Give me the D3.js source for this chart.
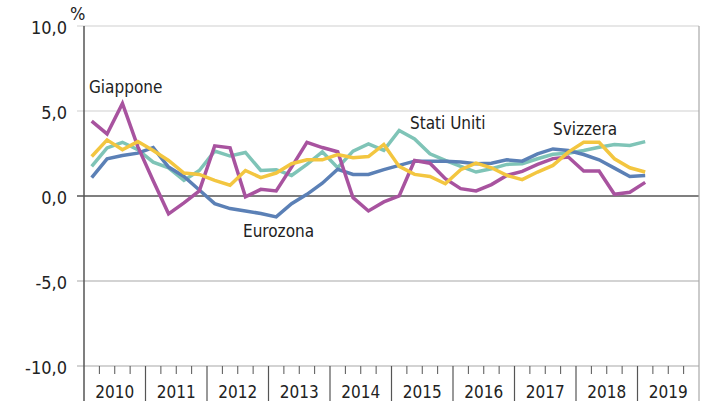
<!DOCTYPE html>
<html>
<head>
<meta charset="utf-8">
<script src="https://cdn.jsdelivr.net/npm/d3@7"></script>
<style>
  body { margin: 0; background: #fff; }
  svg { display: block; font-family: "Liberation Sans Narrow", "DejaVu Sans Condensed", "Roboto", sans-serif; }
  .tick-label { font-size: 18px; fill: #222; }
  .year-label { font-size: 17px; fill: #222; }
  .series-label { font-size: 17px; fill: #222; }
</style>
</head>
<body>
<div id="vis"></div>
<script>
// quarterly, 2010Q1 .. 2019Q1
var years = ['2010', '2011', '2012', '2013', '2014', '2015', '2016', '2017', '2018', '2019'];
var yTicks = [10, 5, 0, -5, -10];

var giappone = [4.4, 3.65, 5.45, 2.9, 0.9, -1.05, -0.4, 0.3, 2.95, 2.83, -0.05, 0.39, 0.3, 1.7, 3.16, 2.85,
    2.6, -0.1, -0.88, -0.35, 0.0, 2.09, 1.93, 1.02, 0.43, 0.3, 0.67, 1.21, 1.45, 1.86, 2.2, 2.29, 1.47, 1.47, 0.1, 0.22, 0.8];
var eurozona = [1.08, 2.19, 2.38, 2.52, 2.85, 1.7, 1.15, 0.35, -0.45, -0.74, -0.88, -1.03, -1.23, -0.45, 0.1, 0.75,
    1.57, 1.27, 1.27, 1.55, 1.8, 2.05, 2.05, 2.05, 2.0, 1.9, 1.93, 2.13, 2.05, 2.48, 2.77, 2.68, 2.44, 2.13, 1.64, 1.15, 1.2];
var statiUniti = [1.74, 2.83, 3.16, 2.72, 1.99, 1.66, 0.92, 1.5, 2.64, 2.35, 2.56, 1.5, 1.55, 1.21, 1.86, 2.6,
    1.66, 2.64, 3.07, 2.68, 3.85, 3.36, 2.48, 2.09, 1.74, 1.41, 1.6, 1.86, 1.9, 2.19, 2.45, 2.52, 2.68, 2.87, 3.03, 2.97, 3.2];
var svizzera = [2.32, 3.3, 2.72, 3.2, 2.68, 2.09, 1.35, 1.27, 0.92, 0.63, 1.5, 1.08, 1.35, 1.9, 2.13, 2.13,
    2.44, 2.25, 2.32, 3.03, 1.74, 1.27, 1.15, 0.72, 1.55, 1.93, 1.66, 1.21, 0.96, 1.41, 1.8, 2.58, 3.16, 3.16, 2.19, 1.66, 1.41];

var series = [
    { name: 'Stati Uniti', values: statiUniti, color: '#7fc4b7', lx: 410, ly: 129 },
    { name: 'Eurozona', values: eurozona, color: '#5b80b6', lx: 243, ly: 237 },
    { name: 'Giappone', values: giappone, color: '#a8539f', lx: 89, ly: 93 },
    { name: 'Svizzera', values: svizzera, color: '#f3c640', lx: 553, ly: 135 }
];

var width = 706;
var height = 401;
var margin = { top: 26, right: 7, bottom: 35, left: 84 };
var drawWidth = width - margin.left - margin.right;
var drawHeight = height - margin.top - margin.bottom;

var svg = d3.select('#vis')
            .append('svg')
            .attr('width', width)
            .attr('height', height);

var g = svg.append('g')
           .attr('transform', 'translate(' + margin.left + ',' + margin.top + ')');

// x in quarters from start of 2010
var nQuarters = years.length * 4;
var xScale = d3.scaleLinear()
               .domain([0, nQuarters])
               .range([0, drawWidth]);
var yScale = d3.scaleLinear()
               .domain([-10, 10])
               .range([drawHeight, 0]);

// horizontal grid
g.selectAll('.grid')
 .data(yTicks)
 .enter()
 .append('line')
 .attr('x1', -7)
 .attr('x2', drawWidth)
 .attr('y1', function(d) { return yScale(d); })
 .attr('y2', function(d) { return yScale(d); })
 .attr('stroke', function(d) { return d === 0 ? '#555' : (d > 0 ? '#cfcfcf' : '#a8a8a8'); })
 .attr('stroke-width', function(d) { return d === 0 ? 1.5 : 1.2; });

// y labels
g.selectAll('.ylab')
 .data(yTicks)
 .enter()
 .append('text')
 .attr('class', 'tick-label')
 .attr('x', -17)
 .attr('y', function(d) { return yScale(d) + 8; })
 .attr('text-anchor', 'end')
 .text(function(d) { return d.toFixed(1).replace('.', ','); });

g.append('text')
 .attr('class', 'tick-label')
 .attr('x', -14)
 .attr('y', -6)
 .text('%');

// right border
g.append('line')
 .attr('x1', drawWidth).attr('x2', drawWidth)
 .attr('y1', 0).attr('y2', drawHeight + margin.bottom)
 .attr('stroke', '#a8a8a8')
 .attr('stroke-width', 1.2);

// left axis
g.append('line')
 .attr('x1', 0).attr('x2', 0)
 .attr('y1', 0).attr('y2', drawHeight + margin.bottom)
 .attr('stroke', '#555')
 .attr('stroke-width', 1.5);

// year separators and quarter ticks
var quarterTicks = d3.range(1, nQuarters).filter(function(q) { return q % 4 !== 0; });
g.selectAll('.qtick')
 .data(quarterTicks)
 .enter()
 .append('line')
 .attr('x1', function(d) { return xScale(d); })
 .attr('x2', function(d) { return xScale(d); })
 .attr('y1', drawHeight)
 .attr('y2', drawHeight + 8)
 .attr('stroke', '#555')
 .attr('stroke-width', 1);

g.selectAll('.ytick')
 .data(d3.range(4, nQuarters, 4))
 .enter()
 .append('line')
 .attr('x1', function(d) { return xScale(d); })
 .attr('x2', function(d) { return xScale(d); })
 .attr('y1', drawHeight)
 .attr('y2', drawHeight + margin.bottom)
 .attr('stroke', '#555')
 .attr('stroke-width', 1.2);

g.selectAll('.xlab')
 .data(years)
 .enter()
 .append('text')
 .attr('class', 'year-label')
 .attr('x', function(d, i) { return xScale(i * 4 + 2); })
 .attr('y', drawHeight + 32)
 .attr('text-anchor', 'middle')
 .text(function(d) { return d; });

// lines
var line = d3.line()
             .x(function(d, i) { return xScale(i + 0.5); })
             .y(function(d) { return yScale(d); });

g.selectAll('.series')
 .data(series)
 .enter()
 .append('path')
 .attr('d', function(d) { return line(d.values); })
 .attr('fill', 'none')
 .attr('stroke', function(d) { return d.color; })
 .attr('stroke-width', 3.5)
 .attr('stroke-linejoin', 'miter');

svg.selectAll('.series-label')
   .data(series)
   .enter()
   .append('text')
   .attr('class', 'series-label')
   .attr('x', function(d) { return d.lx; })
   .attr('y', function(d) { return d.ly; })
   .text(function(d) { return d.name; });
</script>
</body>
</html>
